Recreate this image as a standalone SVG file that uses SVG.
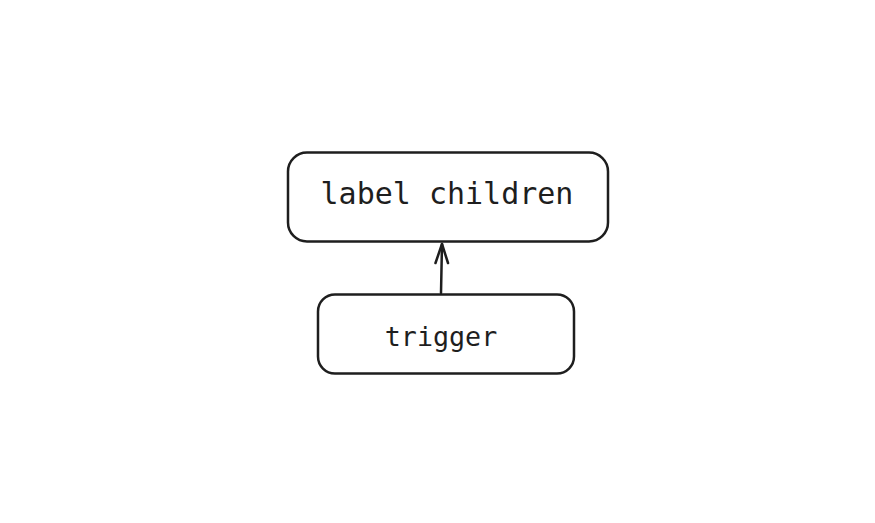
<svg xmlns="http://www.w3.org/2000/svg" width="875" height="523" viewBox="0 0 875 523">
<style>
.box{fill:#fff;stroke:#1e1e1e;stroke-width:2.5}
.lbl{font-family:"DejaVu Sans Mono","Liberation Mono",monospace;fill:#1e1e1e;text-anchor:middle}
.edge{fill:none;stroke:#1e1e1e;stroke-width:2.5;stroke-linecap:round;stroke-linejoin:round}
</style>
<rect width="875" height="523" fill="#fff"/>
<g id="label-children">
<rect class="box" x="288" y="152.5" width="320" height="89" rx="19"/>
<text class="lbl" x="447" y="204" font-size="30">label children</text>
</g>
<g id="trigger">
<rect class="box" x="318" y="294.5" width="256" height="79" rx="17"/>
<text class="lbl" x="441" y="346" font-size="26.7">trigger</text>
</g>
<g id="connectors">
<path class="edge" d="M441 293 L442 244"/>
<path class="edge" d="M435.5 263 L442 244 L448 263"/>
</g>
</svg>
